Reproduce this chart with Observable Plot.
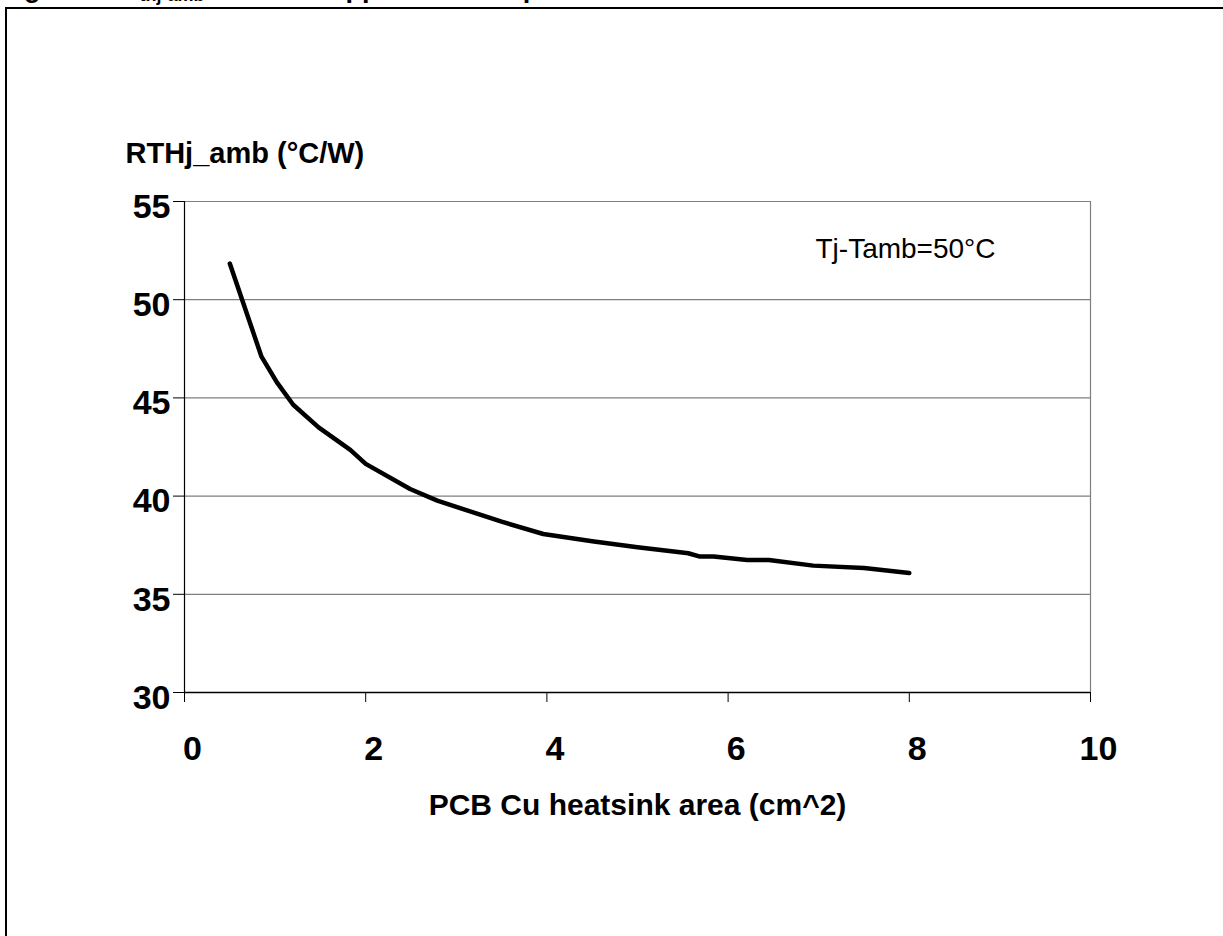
<!DOCTYPE html>
<html>
<head>
<meta charset="utf-8">
<script src="https://cdn.jsdelivr.net/npm/d3@7"></script>
<script src="https://cdn.jsdelivr.net/npm/@observablehq/plot@0.6"></script>
<style>
  html, body { margin: 0; padding: 0; background: white; overflow: hidden; }
  body { width: 1223px; height: 936px; position: relative; font-family: "Liberation Sans", Arial, sans-serif; }
  #chart { position: absolute; left: 0; top: 0; }
  #frame { position: absolute; left: 5px; top: 7px; width: 1400px; height: 1200px; border: 2px solid black; box-sizing: border-box; pointer-events: none; }
  #title { position: absolute; left: 0; top: 0; overflow: visible; }
  svg text { font-family: "Liberation Sans", Arial, sans-serif; }
</style>
</head>
<body>
<div id="chart"></div>
<svg id="title" width="1223" height="20"><text x="0" y="-3" font-size="27" font-weight="bold" fill="black">Figure 5. R<tspan font-size="18" dy="4">thj-amb</tspan><tspan dy="-4"> vs PCB copper area in open box free air condition</tspan></text></svg>
<div id="frame"></div>
<script>
// Data
const area = [0.5, 0.85, 1.02, 1.2, 1.48, 1.83, 2.0, 2.49, 2.79, 3.0, 3.5, 3.96, 4.5, 5.0, 5.47, 5.56, 5.69, 5.84, 6.21, 6.45, 6.94, 7.5, 8.0];
const rth  = [51.84, 47.1, 45.79, 44.65, 43.5, 42.35, 41.64, 40.36, 39.77, 39.45, 38.7, 38.07, 37.7, 37.4, 37.14, 37.09, 36.92, 36.92, 36.75, 36.75, 36.46, 36.34, 36.09];
const xTicks = [0, 2, 4, 6, 8, 10];
const yTicks = [30, 35, 40, 45, 50, 55];
const yLabel = "RTHj_amb (°C/W)";
const xLabel = "PCB Cu heatsink area (cm^2)";
const note = "Tj-Tamb=50°C";

const data = area.map((a, i) => ({area: a, rth: rth[i]}));

const chart = Plot.plot({
  width: 1223,
  height: 936,
  marginLeft: 184,
  marginRight: 133,
  marginTop: 201,
  marginBottom: 244,
  style: {fontFamily: "'Liberation Sans', Arial, sans-serif", color: "black", background: "white", overflow: "visible"},
  x: {domain: [0, 10], ticks: xTicks},
  y: {domain: [30, 55], ticks: yTicks},
  marks: [
    Plot.ruleY(yTicks.filter(d => d > 30), {stroke: "#7f7f7f", strokeWidth: 1.2}),
    Plot.ruleX([10], {stroke: "#7f7f7f", strokeWidth: 1.2}),
    Plot.ruleX([0], {stroke: "black", strokeWidth: 1.2}),
    Plot.ruleY([30], {stroke: "black", strokeWidth: 1.5}),
    // tick marks
    Plot.axisY({ticks: yTicks, tickSize: 11, fill: "none", label: null, tickFormat: () => ""}),
    Plot.axisX({ticks: xTicks, tickSize: 10, fill: "none", label: null, tickFormat: () => ""}),
    // tick labels
    Plot.axisY({ticks: yTicks, tickSize: 0, tickPadding: 14, dy: 5.5, fontSize: 34, fontWeight: "bold", label: null, tickFormat: d => d}),
    Plot.axisX({ticks: xTicks, tickSize: 0, tickPadding: 43, dx: 8, fontSize: 34, fontWeight: "bold", label: null, tickFormat: d => d}),
    Plot.line(data, {x: "area", y: "rth", stroke: "black", strokeWidth: 4.5, strokeLinecap: "round", strokeLinejoin: "round"}),
    Plot.text([yLabel], {frameAnchor: "top-left", dx: -59, dy: -39, textAnchor: "start", lineAnchor: "bottom", fontSize: 29, fontWeight: "bold", fill: "black"}),
    Plot.text([xLabel], {frameAnchor: "bottom", dy: 122, textAnchor: "middle", lineAnchor: "bottom", fontSize: 30, fontWeight: "bold", fill: "black"}),
    Plot.text([note], {frameAnchor: "top-right", dx: -275, dy: 56, textAnchor: "start", lineAnchor: "bottom", fontSize: 28, fill: "black"})
  ]
});
document.getElementById("chart").appendChild(chart);
</script>
</body>
</html>
